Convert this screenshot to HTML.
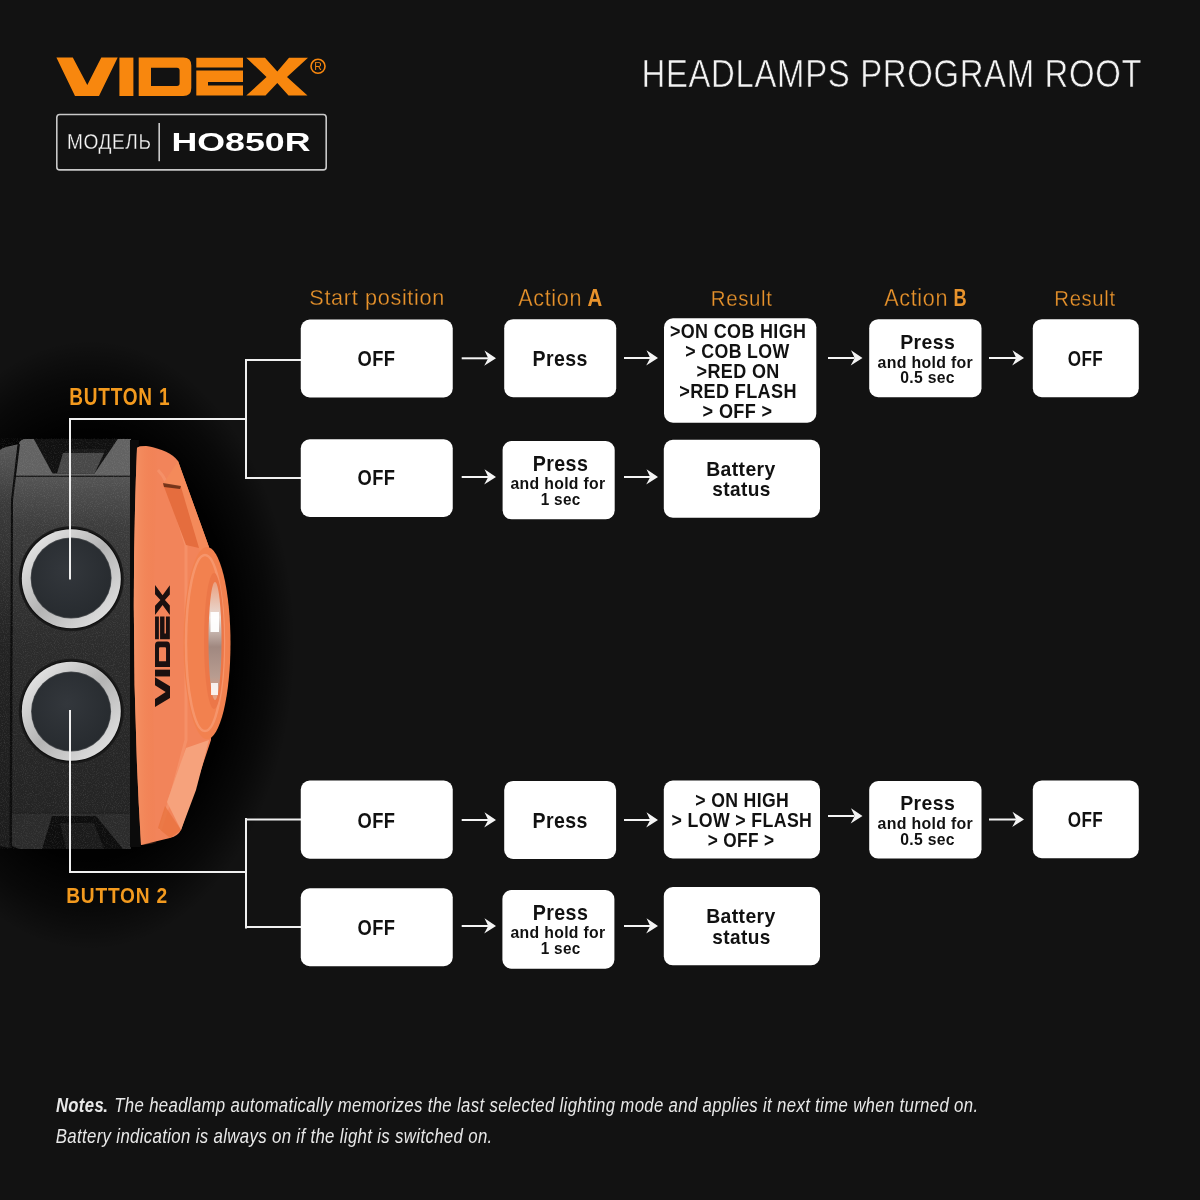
<!DOCTYPE html>
<html><head><meta charset="utf-8"><style>
html,body{margin:0;padding:0;background:#121212;overflow:hidden;width:1200px;height:1200px;}
svg{display:block;will-change:transform;}
text{font-family:"Liberation Sans", sans-serif;}
</style></head><body>
<svg width="1200" height="1200" viewBox="0 0 1200 1200">
<rect width="1200" height="1200" fill="#121212"/>
<defs>
<radialGradient id="vig" cx="0.5" cy="0.5" r="0.5">
<stop offset="0" stop-color="#000" stop-opacity="1"/>
<stop offset="0.7" stop-color="#000" stop-opacity="0.95"/>
<stop offset="0.87" stop-color="#000" stop-opacity="0.5"/>
<stop offset="1" stop-color="#000" stop-opacity="0"/>
</radialGradient>
<linearGradient id="bodyg" x1="0" y1="438" x2="0" y2="849" gradientUnits="userSpaceOnUse">
<stop offset="0" stop-color="#5a5a5a"/>
<stop offset="0.1" stop-color="#535353"/>
<stop offset="0.22" stop-color="#3c3c3c"/>
<stop offset="0.5" stop-color="#2c2c2c"/>
<stop offset="1" stop-color="#222222"/>
</linearGradient>
<linearGradient id="ringg" x1="0" y1="0" x2="1" y2="1">
<stop offset="0" stop-color="#f2f2f2"/>
<stop offset="0.5" stop-color="#b4b4b4"/>
<stop offset="0.8" stop-color="#d6d6d6"/>
<stop offset="1" stop-color="#e8e8e8"/>
</linearGradient>
<radialGradient id="btnface" cx="0.45" cy="0.4" r="0.7">
<stop offset="0" stop-color="#33373c"/>
<stop offset="1" stop-color="#25292d"/>
</radialGradient>
<linearGradient id="shellg" x1="137" y1="0" x2="235" y2="0" gradientUnits="userSpaceOnUse">
<stop offset="0" stop-color="#f07a42"/>
<stop offset="0.35" stop-color="#f48552"/>
<stop offset="0.7" stop-color="#ef7a45"/>
<stop offset="1" stop-color="#e86f3c"/>
</linearGradient>
<linearGradient id="stripg" x1="0" y1="445" x2="0" y2="848" gradientUnits="userSpaceOnUse">
<stop offset="0" stop-color="#5a5a5a"/>
<stop offset="0.15" stop-color="#3a3a3a"/>
<stop offset="0.5" stop-color="#232323"/>
<stop offset="1" stop-color="#1c1c1c"/>
</linearGradient>
<filter id="grain" x="0" y="0" width="1" height="1">
<feTurbulence type="fractalNoise" baseFrequency="0.9" numOctaves="2" seed="3" result="n"/>
<feColorMatrix in="n" type="matrix" values="0 0 0 0 1  0 0 0 0 1  0 0 0 0 1  0 0 0 0.9 -0.42" result="w"/>
<feComposite in="w" in2="SourceGraphic" operator="in"/>
</filter>
<linearGradient id="shellL" x1="133" y1="0" x2="158" y2="0" gradientUnits="userSpaceOnUse">
<stop offset="0" stop-color="#f59468"/>
<stop offset="1" stop-color="#f07b48" stop-opacity="0"/>
</linearGradient>
<linearGradient id="glassg" x1="0" y1="0" x2="0" y2="1">
<stop offset="0" stop-color="#eaa080"/>
<stop offset="0.3" stop-color="#e8dcd6"/>
<stop offset="0.55" stop-color="#a08880"/>
<stop offset="0.8" stop-color="#b89c90"/>
<stop offset="1" stop-color="#eaa080"/>
</linearGradient>
</defs>
<ellipse cx="90" cy="645" rx="205" ry="305" fill="url(#vig)"/>
<!-- left strip -->
<path d="M-2 455Q-2 449 6 447L19 444L12 500L10 848L-2 846Z" fill="url(#stripg)"/>
<!-- main body -->
<path d="M19 444Q20 439 27 439H131V849H20L12 846L12 500Z" fill="url(#bodyg)"/>
<!-- upper panel -->
<path d="M19 444Q20 439 27 439H131V476H15Z" fill="#626262"/>
<path d="M33.8 439L52.5 473.4H94.5L117.8 439Z" fill="#101010"/>
<path d="M63 453H104L94.5 473.4H57Z" fill="#484848"/>
<path d="M63 453H104L106 449H70Z" fill="#1a1a1a"/>
<rect x="15" y="475.6" width="116" height="1.4" fill="#1c1c1c"/>
<!-- lower panel -->
<path d="M12 813H131V849H20L12 846Z" fill="#2b2b2b"/>
<rect x="12" y="812.5" width="119" height="1.2" fill="#1f1f1f"/>
<path d="M42 849L52 816H96L123 849Z" fill="#0d0d0d"/>
<path d="M60 823H94L104 849H66Z" fill="#1b1b1b"/>
<!-- divider line of strip -->
<path d="M17.5 444L11 500L9.5 848H12L13 500L20 444Z" fill="#0c0c0c"/>
<path d="M-2 438H131V849H-2Z" fill="#ffffff" filter="url(#grain)" opacity="0.28"/>
<!-- black border -->
<path d="M130 440H139Q131 645 141 847H130Z" fill="#0b0b0b"/>
<!-- orange shell -->
<path d="M137 448Q138 446 146 446Q170 450 178 461L209 547L211 740L181 830Q178 836 170 838L141 845Q129 645 137 448Z" fill="#f2845a"/>
<path d="M137 448Q138 446 146 446L158 448Q150 645 156 843L141 845Q129 645 137 448Z" fill="url(#shellL)"/>
<!-- face ridge -->
<path d="M158 470Q168 480 172 500L186 545L186 740L170 800L160 830" fill="none" stroke="#f9a07a" stroke-width="3" opacity="0.45"/>
<!-- upper slot -->
<path d="M163 484L178 461L209 547L200 552L181 490Z" fill="#f48a5a"/>
<path d="M163 484L181 487L199 548L186 545Z" fill="#e56d3e"/>
<path d="M163 483L181 486L180 489L164 487Z" fill="#5a2510" opacity="0.8"/>
<!-- lower slot -->
<path d="M167 802L186 748L209 740L196 790L181 830Z" fill="#f6a27c"/>
<path d="M165 806L181 830L170 838L158 828Z" fill="#e9733f" opacity="0.8"/>
<!-- lens ring -->
<ellipse cx="207" cy="643" rx="23.5" ry="96" fill="#f2814f"/>
<ellipse cx="205" cy="643" rx="19" ry="88" fill="none" stroke="#f9a47e" stroke-width="2.5" opacity="0.6"/>
<ellipse cx="214" cy="641" rx="10" ry="68" fill="#ec7748"/>
<ellipse cx="215" cy="641" rx="6.5" ry="59" fill="url(#glassg)"/>
<rect x="210.5" y="612" width="8.5" height="20" fill="#ffffff" opacity="0.95"/>
<rect x="211" y="683" width="7" height="12" fill="#ffffff" opacity="0.85"/>
<!-- VIDEX on lamp -->
<g transform="matrix(0 -0.4849 0.3906 0 132.5 734.35)" fill="#1a1010" fill-rule="evenodd">
<path d="M56.4 57.6H72.8L87.3 85L101.3 57.6H117.7L99 96H75Z"/>
<path d="M119.4 57.6H133.4V96H119.4Z"/>
<path d="M138.7 57.6H183.3Q191.3 57.6 191.3 65.6V88Q191.3 96 183.3 96H138.7Z M151 67.8V85.9H177Q179.6 85.9 179.6 83.3V70.4Q179.6 67.8 177 67.8Z"/>
<path d="M196.3 57.7H243V67.5H196.3Z M196.3 70.6H243V81.9H208V85.6H243V95.6H196.3Z"/>
<path d="M246.3 57.7H265L277.3 71.5L289 57.7H308L287 77L307.5 95.6H288.5L277.3 83L265.5 95.6H246.3L266.5 77Z"/>
</g>
<!-- buttons -->
<circle cx="71.3" cy="578.7" r="52.5" fill="#1a1a1a"/>
<circle cx="71.3" cy="578.7" r="50.5" fill="#0e0e0e"/>
<circle cx="71.3" cy="578.7" r="49.5" fill="url(#ringg)"/>
<circle cx="71.1" cy="578" r="40.5" fill="#4a4d50"/>
<circle cx="71.1" cy="578" r="39.8" fill="url(#btnface)"/>
<circle cx="71.3" cy="711.3" r="52.5" fill="#1a1a1a"/>
<circle cx="71.3" cy="711.3" r="50.5" fill="#0e0e0e"/>
<circle cx="71.3" cy="711.3" r="49.5" fill="url(#ringg)"/>
<circle cx="71.1" cy="711.5" r="40" fill="#4a4d50"/>
<circle cx="71.1" cy="711.5" r="39.3" fill="url(#btnface)"/>

<g fill="#f8870e" fill-rule="evenodd"><path d="M56.4 57.6H72.8L87.3 85L101.3 57.6H117.7L99 96H75Z"/><path d="M119.4 57.6H133.4V96H119.4Z"/><path d="M138.7 57.6H183.3Q191.3 57.6 191.3 65.6V88Q191.3 96 183.3 96H138.7Z M151 67.8V85.9H177Q179.6 85.9 179.6 83.3V70.4Q179.6 67.8 177 67.8Z"/><path d="M196.3 57.7H243V67.5H196.3Z M196.3 70.6H243V81.9H208V85.6H243V95.6H196.3Z"/><path d="M246.3 57.7H265L277.3 71.5L289 57.7H308L287 77L307.5 95.6H288.5L277.3 83L265.5 95.6H246.3L266.5 77Z"/></g><circle cx="318" cy="66.3" r="7" fill="none" stroke="#f8870e" stroke-width="1.6"/><text x="318" y="70.3" font-size="10.5" font-weight="normal" fill="#f8870e" text-anchor="middle" font-family="Liberation Sans">R</text><rect x="56.8" y="114.5" width="269.4" height="55.4" rx="3" fill="none" stroke="#c8c8c8" stroke-width="1.6"/><rect x="158.4" y="123" width="1.6" height="38.2" fill="#c8c8c8"/>
<path d="M70 578.5V419H246" stroke="#f0f0f0" stroke-width="2" fill="none" stroke-linecap="square"/>
<path d="M246 360V478" stroke="#f0f0f0" stroke-width="2" fill="none" stroke-linecap="square"/>
<path d="M246 360H301" stroke="#f0f0f0" stroke-width="2" fill="none" stroke-linecap="square"/>
<path d="M246 478H301" stroke="#f0f0f0" stroke-width="2" fill="none" stroke-linecap="square"/>
<path d="M70 711V872H246" stroke="#f0f0f0" stroke-width="2" fill="none" stroke-linecap="square"/>
<path d="M246 819V927.5" stroke="#f0f0f0" stroke-width="2" fill="none" stroke-linecap="square"/>
<path d="M246 819.5H301" stroke="#f0f0f0" stroke-width="2" fill="none" stroke-linecap="square"/>
<path d="M246 927H301" stroke="#f0f0f0" stroke-width="2" fill="none" stroke-linecap="square"/>
<rect x="300.75" y="319.50" width="152.00" height="78.00" rx="9" fill="#ffffff"/>
<rect x="504.20" y="319.20" width="112.00" height="78.00" rx="9" fill="#ffffff"/>
<rect x="664.00" y="318.30" width="152.30" height="104.40" rx="9" fill="#ffffff"/>
<rect x="869.20" y="319.20" width="112.30" height="78.00" rx="9" fill="#ffffff"/>
<rect x="1032.80" y="319.20" width="106.00" height="78.00" rx="9" fill="#ffffff"/>
<rect x="300.75" y="439.25" width="152.00" height="77.75" rx="9" fill="#ffffff"/>
<rect x="502.60" y="441.00" width="112.10" height="78.30" rx="9" fill="#ffffff"/>
<rect x="663.80" y="439.80" width="156.20" height="77.90" rx="9" fill="#ffffff"/>
<rect x="300.75" y="780.50" width="152.00" height="78.25" rx="9" fill="#ffffff"/>
<rect x="504.20" y="780.90" width="111.90" height="78.00" rx="9" fill="#ffffff"/>
<rect x="663.80" y="780.50" width="156.20" height="77.90" rx="9" fill="#ffffff"/>
<rect x="869.20" y="781.00" width="112.30" height="77.60" rx="9" fill="#ffffff"/>
<rect x="1032.80" y="780.40" width="106.00" height="77.80" rx="9" fill="#ffffff"/>
<rect x="300.75" y="888.25" width="152.00" height="78.00" rx="9" fill="#ffffff"/>
<rect x="502.40" y="890.10" width="112.00" height="78.60" rx="9" fill="#ffffff"/>
<rect x="663.80" y="887.10" width="156.20" height="78.20" rx="9" fill="#ffffff"/>
<path d="M461.7 357.3H488.0V359.3H461.7Z" fill="#f4f4f4"/>
<path d="M496.0 358.3L484.5 350.5L488.2 358.3L484.2 365.8Z" fill="#f4f4f4"/>
<path d="M624.0 357.0H650.0V359.0H624.0Z" fill="#f4f4f4"/>
<path d="M658.0 358.0L646.5 350.2L650.2 358.0L646.2 365.5Z" fill="#f4f4f4"/>
<path d="M828.0 357.0H854.5V359.0H828.0Z" fill="#f4f4f4"/>
<path d="M862.5 358.0L851.0 350.2L854.7 358.0L850.7 365.5Z" fill="#f4f4f4"/>
<path d="M989.0 357.0H1016.0V359.0H989.0Z" fill="#f4f4f4"/>
<path d="M1024.0 358.0L1012.5 350.2L1016.2 358.0L1012.2 365.5Z" fill="#f4f4f4"/>
<path d="M461.7 476.0H488.0V478.0H461.7Z" fill="#f4f4f4"/>
<path d="M496.0 477.0L484.5 469.2L488.2 477.0L484.2 484.5Z" fill="#f4f4f4"/>
<path d="M624.0 476.0H650.0V478.0H624.0Z" fill="#f4f4f4"/>
<path d="M658.0 477.0L646.5 469.2L650.2 477.0L646.2 484.5Z" fill="#f4f4f4"/>
<path d="M461.7 819.0H488.0V821.0H461.7Z" fill="#f4f4f4"/>
<path d="M496.0 820.0L484.5 812.2L488.2 820.0L484.2 827.5Z" fill="#f4f4f4"/>
<path d="M624.0 819.0H650.0V821.0H624.0Z" fill="#f4f4f4"/>
<path d="M658.0 820.0L646.5 812.2L650.2 820.0L646.2 827.5Z" fill="#f4f4f4"/>
<path d="M828.0 815.0H854.5V817.0H828.0Z" fill="#f4f4f4"/>
<path d="M862.5 816.0L851.0 808.2L854.7 816.0L850.7 823.5Z" fill="#f4f4f4"/>
<path d="M989.0 818.5H1016.0V820.5H989.0Z" fill="#f4f4f4"/>
<path d="M1024.0 819.5L1012.5 811.7L1016.2 819.5L1012.2 827.0Z" fill="#f4f4f4"/>
<path d="M461.7 925.0H488.0V927.0H461.7Z" fill="#f4f4f4"/>
<path d="M496.0 926.0L484.5 918.2L488.2 926.0L484.2 933.5Z" fill="#f4f4f4"/>
<path d="M624.0 925.0H650.0V927.0H624.0Z" fill="#f4f4f4"/>
<path d="M658.0 926.0L646.5 918.2L650.2 926.0L646.2 933.5Z" fill="#f4f4f4"/>
<text transform="matrix(0.8629 0 0 1 641.47 86.70)" font-size="38.14" font-weight="normal" font-style="normal" fill="#f2f2f2" letter-spacing="0.763" stroke="#121212" stroke-width="0.6" xml:space="preserve">HEADLAMPS PROGRAM ROOT</text>
<text transform="matrix(0.8419 0 0 1 66.97 149.40)" font-size="22.71" font-weight="normal" font-style="normal" fill="#f4f4f4" letter-spacing="0.681" stroke="#121212" stroke-width="0.3" xml:space="preserve">МОДЕЛЬ</text>
<text transform="matrix(1.4224 0 0 1 171.43 150.60)" font-size="25.14" font-weight="bold" font-style="normal" fill="#ffffff" xml:space="preserve">HO850R</text>
<text transform="matrix(0.9484 0 0 1 309.32 305.30)" font-size="22.86" font-weight="normal" font-style="normal" fill="#e8932c" letter-spacing="0.686" stroke="#121212" stroke-width="0.3" xml:space="preserve">Start position</text>
<text transform="matrix(0.9233 0 0 1 518.30 306.00)" font-size="23.33" font-weight="normal" font-style="normal" fill="#e8932c" letter-spacing="0.700" stroke="#121212" stroke-width="0.3" xml:space="preserve">Action</text>
<text transform="matrix(0.8757 0 0 1 587.39 306.00)" font-size="23.33" font-weight="bold" font-style="normal" fill="#e8932c" xml:space="preserve">A</text>
<text transform="matrix(0.9056 0 0 1 710.86 306.00)" font-size="22.61" font-weight="normal" font-style="normal" fill="#e8932c" letter-spacing="0.678" stroke="#121212" stroke-width="0.3" xml:space="preserve">Result</text>
<text transform="matrix(0.9323 0 0 1 884.20 305.75)" font-size="23.19" font-weight="normal" font-style="normal" fill="#e8932c" letter-spacing="0.696" stroke="#121212" stroke-width="0.3" xml:space="preserve">Action</text>
<text transform="matrix(0.7849 0 0 1 953.52 305.75)" font-size="23.19" font-weight="bold" font-style="normal" fill="#e8932c" xml:space="preserve">B</text>
<text transform="matrix(0.8995 0 0 1 1054.37 305.70)" font-size="22.61" font-weight="normal" font-style="normal" fill="#e8932c" letter-spacing="0.678" stroke="#121212" stroke-width="0.3" xml:space="preserve">Result</text>
<text transform="matrix(0.7896 0 0 1 69.26 404.50)" font-size="24.14" font-weight="bold" font-style="normal" fill="#f39a1e" letter-spacing="0.966" xml:space="preserve">BUTTON 1</text>
<text transform="matrix(0.8445 0 0 1 66.25 903.00)" font-size="22.71" font-weight="bold" font-style="normal" fill="#f39a1e" letter-spacing="0.909" xml:space="preserve">BUTTON 2</text>
<text transform="matrix(0.8282 0 0 1 357.57 365.80)" font-size="22.14" font-weight="bold" font-style="normal" fill="#111111" letter-spacing="0.443" xml:space="preserve">OFF</text>
<text transform="matrix(0.9008 0 0 1 532.53 365.50)" font-size="21.74" font-weight="bold" font-style="normal" fill="#111111" letter-spacing="0.435" xml:space="preserve">Press</text>
<text transform="matrix(0.8781 0 0 1 669.98 337.90)" font-size="20.43" font-weight="bold" font-style="normal" fill="#111111" letter-spacing="0.409" xml:space="preserve">&gt;ON COB HIGH</text>
<text transform="matrix(0.8699 0 0 1 685.29 357.70)" font-size="20.43" font-weight="bold" font-style="normal" fill="#111111" letter-spacing="0.409" xml:space="preserve">&gt; COB LOW</text>
<text transform="matrix(0.8814 0 0 1 696.58 377.70)" font-size="20.43" font-weight="bold" font-style="normal" fill="#111111" letter-spacing="0.409" xml:space="preserve">&gt;RED ON</text>
<text transform="matrix(0.8849 0 0 1 679.28 397.70)" font-size="20.43" font-weight="bold" font-style="normal" fill="#111111" letter-spacing="0.409" xml:space="preserve">&gt;RED FLASH</text>
<text transform="matrix(0.8862 0 0 1 702.58 417.70)" font-size="20.43" font-weight="bold" font-style="normal" fill="#111111" letter-spacing="0.409" xml:space="preserve">&gt; OFF &gt;</text>
<text transform="matrix(0.9270 0 0 1 900.23 348.50)" font-size="21.01" font-weight="bold" font-style="normal" fill="#111111" letter-spacing="0.420" xml:space="preserve">Press</text>
<text transform="matrix(1.0017 0 0 1 877.52 367.50)" font-size="15.86" font-weight="bold" font-style="normal" fill="#111111" letter-spacing="0.317" xml:space="preserve">and hold for</text>
<text transform="matrix(0.9584 0 0 1 900.17 383.00)" font-size="16.43" font-weight="bold" font-style="normal" fill="#111111" letter-spacing="0.329" xml:space="preserve">0.5 sec</text>
<text transform="matrix(0.7835 0 0 1 1067.82 365.80)" font-size="21.86" font-weight="bold" font-style="normal" fill="#111111" letter-spacing="0.437" xml:space="preserve">OFF</text>
<text transform="matrix(0.8282 0 0 1 357.57 485.30)" font-size="22.14" font-weight="bold" font-style="normal" fill="#111111" letter-spacing="0.443" xml:space="preserve">OFF</text>
<text transform="matrix(0.8933 0 0 1 532.72 470.80)" font-size="22.03" font-weight="bold" font-style="normal" fill="#111111" letter-spacing="0.441" xml:space="preserve">Press</text>
<text transform="matrix(1.0040 0 0 1 510.53 489.20)" font-size="15.72" font-weight="bold" font-style="normal" fill="#111111" letter-spacing="0.314" xml:space="preserve">and hold for</text>
<text transform="matrix(0.9626 0 0 1 540.68 505.20)" font-size="15.94" font-weight="bold" font-style="normal" fill="#111111" letter-spacing="0.319" xml:space="preserve">1 sec</text>
<text transform="matrix(0.9500 0 0 1 706.14 475.60)" font-size="20.43" font-weight="bold" font-style="normal" fill="#111111" letter-spacing="0.409" xml:space="preserve">Battery</text>
<text transform="matrix(0.9833 0 0 1 712.33 496.00)" font-size="19.39" font-weight="bold" font-style="normal" fill="#111111" letter-spacing="0.388" xml:space="preserve">status</text>
<text transform="matrix(0.8282 0 0 1 357.57 827.50)" font-size="22.14" font-weight="bold" font-style="normal" fill="#111111" letter-spacing="0.443" xml:space="preserve">OFF</text>
<text transform="matrix(0.8883 0 0 1 532.53 827.50)" font-size="22.03" font-weight="bold" font-style="normal" fill="#111111" letter-spacing="0.441" xml:space="preserve">Press</text>
<text transform="matrix(0.8575 0 0 1 695.29 807.10)" font-size="20.57" font-weight="bold" font-style="normal" fill="#111111" letter-spacing="0.411" xml:space="preserve">&gt; ON HIGH</text>
<text transform="matrix(0.8635 0 0 1 671.59 827.00)" font-size="20.57" font-weight="bold" font-style="normal" fill="#111111" letter-spacing="0.411" xml:space="preserve">&gt; LOW &gt; FLASH</text>
<text transform="matrix(0.8381 0 0 1 707.81 846.80)" font-size="20.57" font-weight="bold" font-style="normal" fill="#111111" letter-spacing="0.411" xml:space="preserve">&gt; OFF &gt;</text>
<text transform="matrix(0.9270 0 0 1 900.23 810.30)" font-size="21.01" font-weight="bold" font-style="normal" fill="#111111" letter-spacing="0.420" xml:space="preserve">Press</text>
<text transform="matrix(1.0017 0 0 1 877.52 829.30)" font-size="15.86" font-weight="bold" font-style="normal" fill="#111111" letter-spacing="0.317" xml:space="preserve">and hold for</text>
<text transform="matrix(0.9584 0 0 1 900.17 844.80)" font-size="16.43" font-weight="bold" font-style="normal" fill="#111111" letter-spacing="0.329" xml:space="preserve">0.5 sec</text>
<text transform="matrix(0.7835 0 0 1 1067.82 827.00)" font-size="21.86" font-weight="bold" font-style="normal" fill="#111111" letter-spacing="0.437" xml:space="preserve">OFF</text>
<text transform="matrix(0.8282 0 0 1 357.57 935.00)" font-size="22.14" font-weight="bold" font-style="normal" fill="#111111" letter-spacing="0.443" xml:space="preserve">OFF</text>
<text transform="matrix(0.8933 0 0 1 532.72 920.10)" font-size="22.03" font-weight="bold" font-style="normal" fill="#111111" letter-spacing="0.441" xml:space="preserve">Press</text>
<text transform="matrix(1.0040 0 0 1 510.53 938.30)" font-size="15.72" font-weight="bold" font-style="normal" fill="#111111" letter-spacing="0.314" xml:space="preserve">and hold for</text>
<text transform="matrix(0.9626 0 0 1 540.68 954.00)" font-size="15.94" font-weight="bold" font-style="normal" fill="#111111" letter-spacing="0.319" xml:space="preserve">1 sec</text>
<text transform="matrix(0.9500 0 0 1 706.14 923.20)" font-size="20.43" font-weight="bold" font-style="normal" fill="#111111" letter-spacing="0.409" xml:space="preserve">Battery</text>
<text transform="matrix(0.9833 0 0 1 712.33 943.50)" font-size="19.39" font-weight="bold" font-style="normal" fill="#111111" letter-spacing="0.388" xml:space="preserve">status</text>
<text transform="matrix(0.8124 0 0 1 55.92 1112.00)" font-size="20.58" font-weight="bold" font-style="italic" fill="#e8e8e8" letter-spacing="0.412" xml:space="preserve">Notes</text>
<text transform="matrix(0.8149 0 0 1 114.29 1112.00)" font-size="20.58" font-weight="normal" font-style="italic" fill="#e8e8e8" letter-spacing="0.412" xml:space="preserve">The headlamp automatically memorizes the last selected lighting mode and applies it next time when turned on.</text>
<text transform="matrix(0.8287 0 0 1 55.75 1142.90)" font-size="20.29" font-weight="normal" font-style="italic" fill="#e8e8e8" letter-spacing="0.406" xml:space="preserve">Battery indication is always on if the light is switched on.</text>
<rect x="103.8" y="1109.3" width="2.6" height="2.7" fill="#e8e8e8"/>
</svg>
</body></html>
